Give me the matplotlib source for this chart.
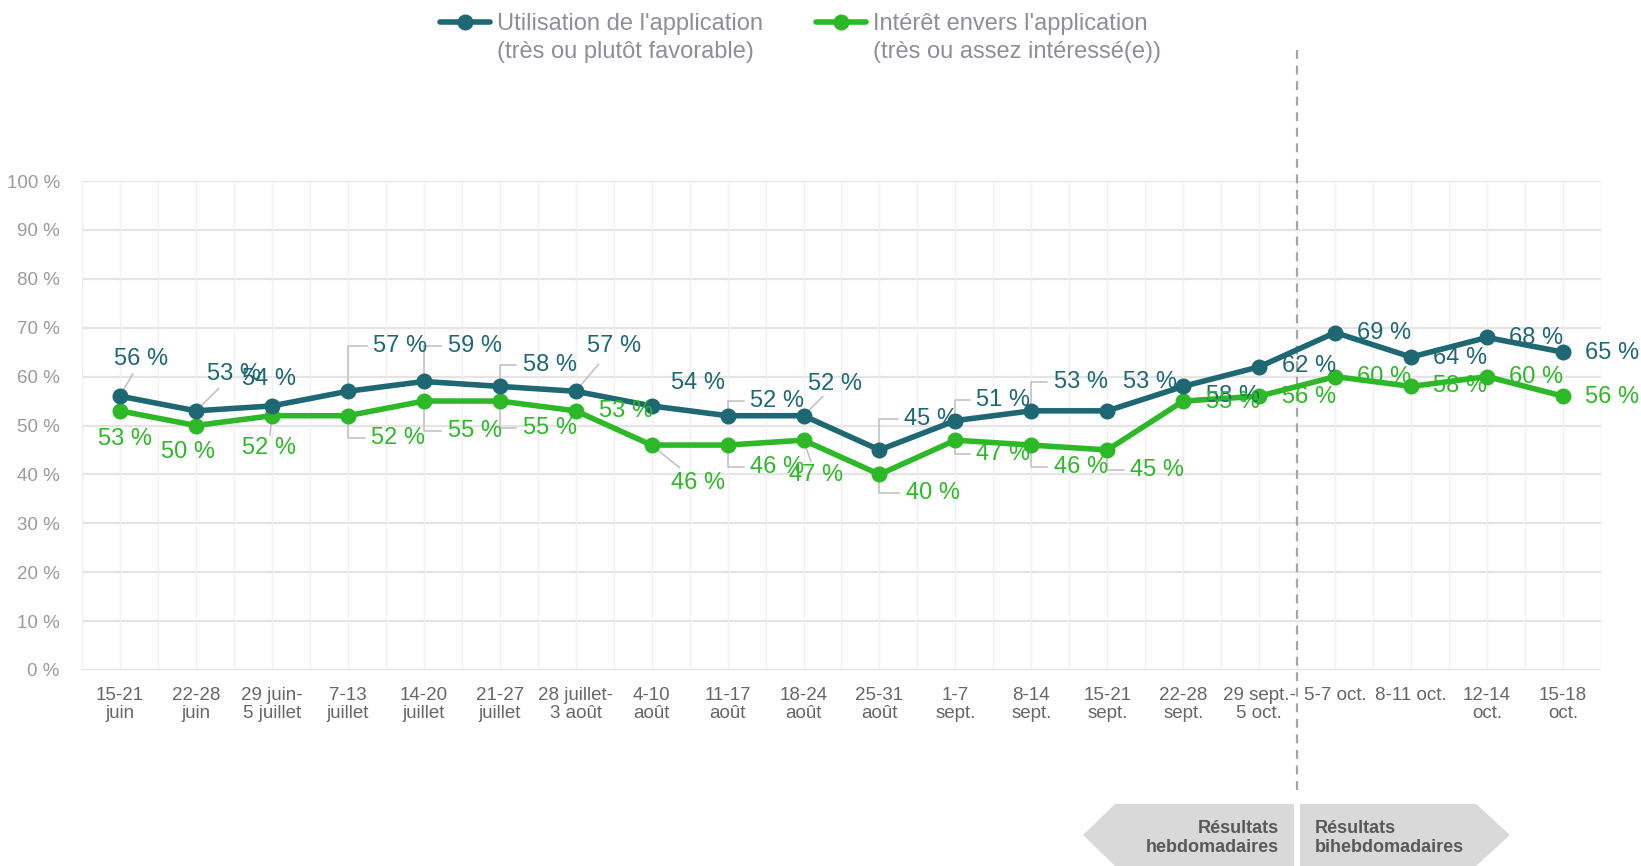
import matplotlib
matplotlib.use("Agg")
import matplotlib.pyplot as plt
from matplotlib.lines import Line2D
from matplotlib.patches import Polygon
import numpy as np

plt.rcParams["font.family"] = ["Liberation Sans", "DejaVu Sans"]

# ---------- données ----------
periodes = [
    "15-21\njuin", "22-28\njuin", "29 juin-\n5 juillet", "7-13\njuillet",
    "14-20\njuillet", "21-27\njuillet", "28 juillet-\n3 août", "4-10\naoût",
    "11-17\naoût", "18-24\naoût", "25-31\naoût", "1-7\nsept.", "8-14\nsept.",
    "15-21\nsept.", "22-28\nsept.", "29 sept.-\n5 oct.", "5-7 oct.",
    "8-11 oct.", "12-14\noct.", "15-18\noct.",
]
utilisation = [56, 53, 54, 57, 59, 58, 57, 54, 52, 52, 45, 51, 53, 53, 58, 62, 69, 64, 68, 65]
interet = [53, 50, 52, 52, 55, 55, 53, 46, 46, 47, 40, 47, 46, 45, 55, 56, 60, 58, 60, 56]

nom_util = "Utilisation de l'application\n(très ou plutôt favorable)"
nom_inter = "Intérêt envers l'application\n(très ou assez intéressé(e))"

# ---------- placement des étiquettes (x, y du centre du texte, type de trait) ----------
etiq_util = [
    (0.28, 63.6, "diag"), (1.50, 60.6, "diag"), (1.96, 59.5, None), (3.69, 66.2, "coude"),
    (4.67, 66.2, "coude"), (5.66, 62.3, "coude"), (6.50, 66.2, "diag"), (7.61, 58.7, None),
    (8.65, 55.0, "coude"), (9.42, 58.5, "diag"), (10.68, 51.4, "coude"), (11.63, 55.2, "coude"),
    (12.65, 58.9, "coude"), (13.56, 58.9, None), (14.65, 56.1, None), (15.66, 62.1, None),
    (16.65, 68.9, None), (17.65, 63.8, None), (18.64, 67.9, None), (19.65, 64.9, None),
]
etiq_inter = [
    (0.07, 47.3, None), (0.90, 44.5, None), (1.96, 45.4, "diag"), (3.66, 47.5, "coude"),
    (4.67, 48.8, "coude"), (5.66, 49.5, "coude"), (6.66, 52.9, None), (7.61, 38.3, "diag"),
    (8.65, 41.5, "coude"), (9.16, 39.8, "diag"), (10.70, 36.2, "coude"), (11.63, 44.1, "coude"),
    (12.65, 41.5, "coude"), (13.66, 40.9, "coude"), (14.65, 54.8, None), (15.66, 55.9, None),
    (16.65, 60.0, None), (17.65, 58.0, None), (18.64, 60.0, None), (19.65, 55.9, None),
]

C_UTIL = "#1d6872"
C_INTER = "#2db827"
C_TRAIT = "#bfbfbf"

W, H = 1641, 866
fig = plt.figure(figsize=(W / 100, H / 100), dpi=100)
ax = fig.add_axes([82 / W, 1 - 670 / H, (1601 - 82) / W, (670 - 181) / H])

x = np.arange(len(periodes))
ax.set_xlim(-0.5, len(periodes) - 0.5)
ax.set_ylim(0, 100)

# grille
ax.set_yticks(np.arange(0, 101, 10))
ax.set_yticklabels([f"{v} %" for v in range(0, 101, 10)], color="#9a9aa0", fontsize=13.5)
ax.set_xticks(x)
ax.set_xticklabels(periodes, color="#666666", fontsize=13.5, linespacing=1.12)
ax.tick_params(length=0, which="both")
ax.tick_params(axis="y", pad=16)
ax.tick_params(axis="x", pad=12)
for v in range(10, 101, 10):
    ax.axhline(v, color="#e4e4e4", lw=1.6, zorder=0)
for xv in np.arange(-0.5, len(periodes), 0.5):
    ax.axvline(xv, color="#f0f0f0", lw=1.0, zorder=0)
ax.axhline(0, color="#d9d9d9", lw=1.8, zorder=0)
for s in ax.spines.values():
    s.set_visible(False)

# séries
ax.plot(x, utilisation, color=C_UTIL, lw=4.0, marker="o", ms=10.5, zorder=4, clip_on=False)
ax.plot(x, interet, color=C_INTER, lw=4.0, marker="o", ms=10.5, zorder=3, clip_on=False)


def etiquettes(valeurs, placements, couleur):
    for i, (v, (tx, ty, kind)) in enumerate(zip(valeurs, placements)):
        if kind == "coude":
            ax.plot([i, i, tx - 0.44], [v, ty, ty], color=C_TRAIT, lw=1.1, zorder=2, clip_on=False)
        elif kind == "diag":
            f = 0.6
            ax.plot([i, i + f * (tx - i)], [v, v + f * (ty - v)], color=C_TRAIT, lw=1.1,
                    zorder=2, clip_on=False)
        ax.text(tx, ty, f"{v} %", color=couleur, fontsize=17, ha="center", va="center", zorder=5)


etiquettes(utilisation, etiq_util, C_UTIL)
etiquettes(interet, etiq_inter, C_INTER)

# séparation hebdo / bihebdo
ax.axvline(15.5, ymin=-0.245, ymax=1.274, color="#a6a6a6", lw=1.6, ls=(0, (4, 3)),
           clip_on=False, zorder=1)


def fx(px):
    return px / W


def fy(py):
    return 1 - py / H


# légende
for x0, col, nom in [(440, C_UTIL, nom_util), (816, C_INTER, nom_inter)]:
    fig.add_artist(Line2D([fx(x0), fx(x0 + 50)], [fy(22), fy(22)], color=col, lw=4.0,
                          solid_capstyle="round"))
    fig.add_artist(Line2D([fx(x0 + 25)], [fy(22)], color=col, marker="o", ms=10.5))
    fig.text(fx(x0 + 57), fy(38), nom, color="#8e8e99", fontsize=17, ha="left", va="center",
             linespacing=1.3)

# flèches du bas
gris = "#d9d9d9"
fig.add_artist(Polygon([(fx(1083), fy(835)), (fx(1115), fy(804)), (fx(1294), fy(804)),
                        (fx(1294), fy(866)), (fx(1115), fy(866))], closed=True,
                       facecolor=gris, edgecolor="none", transform=fig.transFigure))
fig.add_artist(Polygon([(fx(1300), fy(804)), (fx(1476), fy(804)), (fx(1510), fy(835)),
                        (fx(1476), fy(866)), (fx(1300), fy(866))], closed=True,
                       facecolor=gris, edgecolor="none", transform=fig.transFigure))
fig.text(fx(1279), fy(838), "Résultats\nhebdomadaires", color="#595959", fontsize=13,
         fontweight="bold", ha="right", va="center", multialignment="right", linespacing=1.2)
fig.text(fx(1315), fy(838), "Résultats\nbihebdomadaires", color="#595959", fontsize=13,
         fontweight="bold", ha="left", va="center", linespacing=1.2)

fig.savefig("out.png", dpi=100, facecolor="white")
